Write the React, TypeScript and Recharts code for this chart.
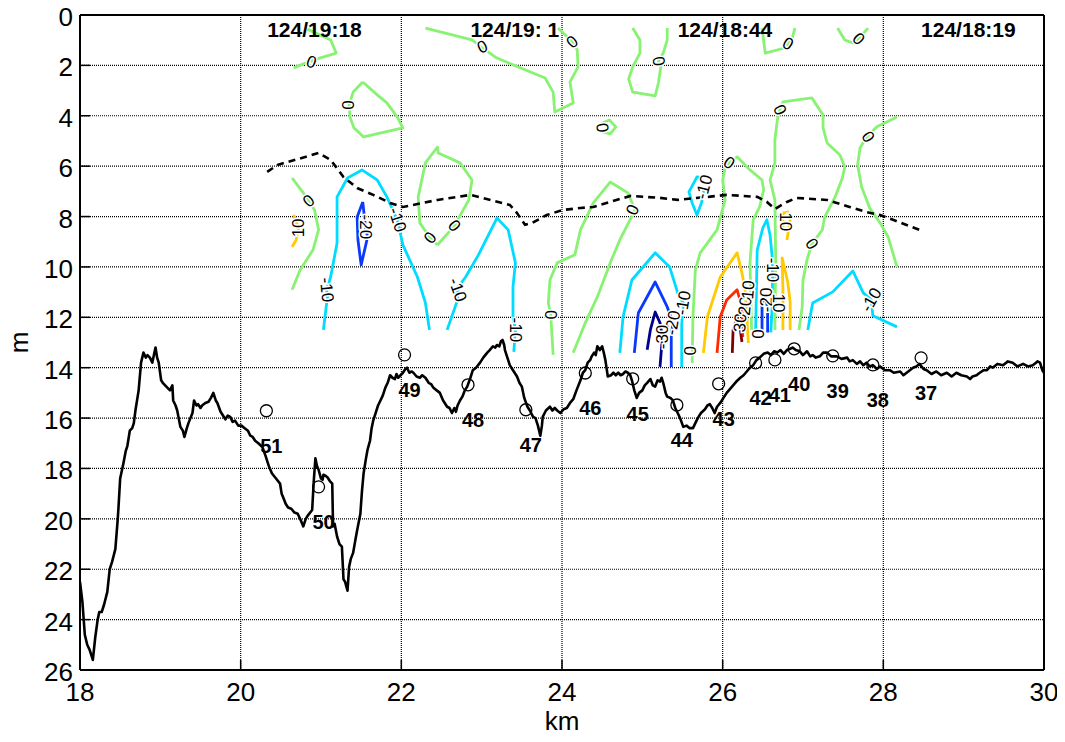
import React from 'react';
import { ComposedChart, Line, Scatter, XAxis, YAxis, CartesianGrid } from 'recharts';

type P = [number, number];
const FONT = 'Arial, "Liberation Sans", Helvetica, sans-serif';

const kmTicks = [18, 20, 22, 24, 26, 28, 30];
const depthTicks = [0, 2, 4, 6, 8, 10, 12, 14, 16, 18, 20, 22, 24, 26];

// seabed profile (km, depth m)
const seabed: P[] = [
  [18.00,22.5],[18.03,23.3],[18.06,24.6],[18.09,25.0],[18.12,25.2],[18.16,25.6],[18.19,24.7],[18.22,24.0],[18.24,23.7],[18.27,23.7],
  [18.30,23.4],[18.34,22.9],[18.37,22.0],[18.40,21.7],[18.44,21.2],[18.47,20.0],[18.48,19.5],[18.50,18.4],[18.54,17.8],[18.57,17.3],
  [18.59,17.1],[18.62,16.5],[18.65,16.4],[18.67,16.2],[18.69,15.7],[18.73,14.9],[18.76,13.8],[18.79,13.4],[18.82,13.6],[18.84,13.5],
  [18.87,13.6],[18.90,13.8],[18.92,13.5],[18.94,13.2],[18.96,13.6],[18.98,13.8],[19.01,14.5],[19.03,14.6],[19.06,14.7],[19.09,14.8],
  [19.12,14.9],[19.15,14.7],[19.16,15.3],[19.19,15.5],[19.21,15.7],[19.25,16.35],[19.28,16.5],[19.30,16.75],[19.33,16.4],[19.35,16.2],
  [19.40,15.8],[19.42,15.3],[19.45,15.5],[19.47,15.45],[19.50,15.6],[19.52,15.5],[19.56,15.4],[19.60,15.35],[19.63,15.2],[19.66,15.0],
  [19.69,15.3],[19.71,15.4],[19.75,15.75],[19.78,15.9],[19.81,16.05],[19.84,15.9],[19.87,15.95],[19.90,16.15],[19.93,16.1],[19.97,16.3],
  [20.01,16.3],[20.05,16.4],[20.09,16.5],[20.12,16.7],[20.15,16.75],[20.18,16.9],[20.22,17.0],[20.27,17.15],[20.31,17.5],[20.35,17.9],
  [20.39,18.2],[20.44,18.4],[20.49,18.6],[20.51,19.0],[20.53,19.15],[20.56,19.4],[20.59,19.55],[20.63,19.6],[20.67,19.75],[20.71,19.8],
  [20.74,20.0],[20.78,20.3],[20.81,20.0],[20.84,19.85],[20.89,19.65],[20.91,18.5],[20.93,17.6],[20.95,17.9],[20.97,18.05],[21.00,18.4],
  [21.02,18.45],[21.03,18.25],[21.06,18.3],[21.08,18.35],[21.11,18.5],[21.14,18.6],[21.15,20.3],[21.17,20.2],[21.20,20.7],[21.23,21.0],
  [21.26,21.1],[21.28,22.4],[21.30,22.5],[21.33,22.85],[21.35,21.9],[21.37,21.6],[21.40,21.35],[21.43,20.8],[21.45,20.45],[21.49,19.8],
  [21.51,18.9],[21.53,18.2],[21.56,17.6],[21.58,17.25],[21.61,16.9],[21.63,16.4],[21.65,16.1],[21.68,15.8],[21.71,15.5],[21.74,15.3],
  [21.77,15.1],[21.80,14.8],[21.83,14.6],[21.86,14.3],[21.89,14.4],[21.92,14.45],[21.94,14.25],[21.96,14.4],[21.99,14.3],[22.02,14.2],
  [22.05,14.05],[22.07,14.0],[22.10,14.2],[22.13,14.15],[22.15,14.2],[22.19,14.35],[22.23,14.4],[22.26,14.3],[22.30,14.4],[22.34,14.6],
  [22.37,14.65],[22.40,14.8],[22.44,14.9],[22.48,15.0],[22.52,15.3],[22.57,15.55],[22.60,15.6],[22.63,15.8],[22.66,15.6],[22.68,15.75],
  [22.70,15.5],[22.73,15.3],[22.76,15.15],[22.79,14.9],[22.82,14.75],[22.86,14.4],[22.89,14.1],[22.93,14.0],[22.98,13.8],[23.02,13.6],
  [23.07,13.4],[23.10,13.3],[23.14,13.15],[23.17,13.2],[23.19,13.1],[23.22,13.15],[23.24,12.95],[23.26,12.9],[23.28,13.1],[23.29,13.3],
  [23.32,13.6],[23.35,13.9],[23.39,14.1],[23.44,14.35],[23.47,14.6],[23.50,14.75],[23.53,15.2],[23.57,15.55],[23.60,15.7],[23.64,15.95],
  [23.67,16.0],[23.70,16.3],[23.73,16.7],[23.75,16.3],[23.76,15.95],[23.80,15.7],[23.85,15.55],[23.88,15.7],[23.91,15.6],[23.94,15.7],
  [23.98,15.8],[24.02,15.65],[24.06,15.6],[24.10,15.4],[24.14,15.25],[24.18,14.9],[24.23,14.5],[24.26,14.2],[24.29,14.1],[24.32,13.8],
  [24.35,13.7],[24.37,13.55],[24.40,13.4],[24.42,13.5],[24.44,13.15],[24.47,13.3],[24.50,13.15],[24.52,13.4],[24.54,13.7],[24.57,14.35],
  [24.61,14.3],[24.64,14.2],[24.67,14.3],[24.70,14.2],[24.73,14.3],[24.76,14.25],[24.79,14.15],[24.82,14.2],[24.85,14.3],[24.87,14.5],
  [24.90,14.9],[24.93,15.2],[24.96,15.0],[25.00,14.9],[25.03,14.7],[25.06,14.6],[25.10,14.45],[25.13,14.7],[25.16,14.75],[25.19,14.5],
  [25.22,14.55],[25.24,14.4],[25.26,14.6],[25.29,15.0],[25.31,15.15],[25.35,15.2],[25.38,15.3],[25.41,15.6],[25.44,15.8],[25.47,16.0],
  [25.51,16.35],[25.55,16.3],[25.59,16.4],[25.63,16.4],[25.66,16.2],[25.69,16.0],[25.73,15.8],[25.78,15.65],[25.81,15.5],[25.84,15.45],
  [25.87,15.6],[25.90,15.8],[25.93,15.55],[25.97,15.4],[26.01,15.2],[26.05,15.0],[26.09,14.85],[26.13,14.7],[26.17,14.55],[26.22,14.4],
  [26.26,14.3],[26.30,14.15],[26.34,14.0],[26.38,13.9],[26.42,13.7],[26.46,13.6],[26.51,13.45],[26.56,13.4],[26.60,13.5],[26.64,13.35],
  [26.68,13.4],[26.72,13.3],[26.76,13.45],[26.80,13.3],[26.84,13.25],[26.87,13.2],[26.91,13.3],[26.96,13.35],[27.00,13.5],[27.05,13.35],
  [27.09,13.55],[27.12,13.5],[27.16,13.6],[27.21,13.55],[27.25,13.4],[27.30,13.4],[27.35,13.55],[27.42,13.55],[27.48,13.65],[27.55,13.6],
  [27.58,13.75],[27.62,13.7],[27.67,13.85],[27.71,13.75],[27.75,13.9],[27.79,13.8],[27.83,13.95],[27.87,13.9],[27.92,14.05],[27.96,13.95],
  [28.02,14.1],[28.08,14.1],[28.13,14.2],[28.21,14.15],[28.25,14.3],[28.29,14.2],[28.33,14.1],[28.37,14.0],[28.41,13.95],[28.45,13.85],
  [28.50,14.05],[28.54,14.1],[28.60,14.25],[28.66,14.15],[28.72,14.3],[28.79,14.2],[28.85,14.35],[28.91,14.2],[28.97,14.3],[29.04,14.35],
  [29.08,14.45],[29.11,14.35],[29.16,14.3],[29.20,14.2],[29.25,14.1],[29.29,14.1],[29.33,13.95],[29.36,14.0],[29.42,13.85],[29.49,13.9],
  [29.55,13.75],[29.61,13.8],[29.67,13.95],[29.74,13.85],[29.80,13.95],[29.86,13.9],[29.90,13.8],[29.92,13.75],[29.95,13.8],[29.98,14.1],
  [30.00,14.2],
];

// dashed black line
const mixedLayer: P[] = [
  [20.33,6.23],[20.46,5.95],[20.97,5.48],[21.12,5.75],[21.28,6.43],[21.45,6.87],[21.65,7.14],[21.86,7.46],[22.02,7.62],[22.45,7.34],
  [22.86,7.14],[23.35,7.54],[23.44,7.86],[23.54,8.33],[23.63,8.25],[23.81,7.94],[24.01,7.74],[24.23,7.66],[24.39,7.62],[24.60,7.42],
  [24.85,7.18],[25.22,7.26],[25.44,7.34],[25.81,7.22],[26.05,7.14],[26.43,7.22],[26.55,7.42],[26.65,7.70],[26.80,7.42],[26.92,7.26],
  [27.30,7.34],[27.58,7.62],[27.79,7.82],[27.96,7.94],[28.12,8.13],[28.45,8.53],
];

// contour level 0
const z0a: P[] = [[20.83,0.56],[21.12,0.99],[21.19,1.51],[20.90,1.79],[20.66,2.10]];
const z0b: P[] = [[21.52,2.66],[21.40,3.06],[21.35,3.57],[21.36,4.05],[21.41,4.48],[21.53,4.84],[22.02,4.48],[21.95,4.05],[21.82,3.49],[21.70,3.17],[21.52,2.66]];
const z0c: P[] = [[22.30,0.52],[22.88,0.99],[23.01,1.31],[23.19,1.71],[23.79,2.5],[23.89,3.06],[23.91,3.85],[24.14,3.49],[24.10,2.66],[24.20,2.06],[24.19,1.39],[24.13,1.07],[23.95,0.52]];
const z0d: P[] = [[24.88,0.52],[24.97,0.99],[24.97,1.51],[24.88,2.06],[24.83,2.54],[24.88,3.06],[25.16,3.21],[25.20,2.70],[25.23,2.06],[25.20,1.83],[25.26,1.51],[25.31,0.99],[25.31,0.52]];
const z0e: P[] = [[26.49,0.52],[26.53,1.51],[26.77,1.31],[26.81,1.15],[26.87,0.87],[26.90,0.52]];
const z0f: P[] = [[27.43,0.52],[27.52,0.99],[27.62,1.11],[27.69,0.95],[27.81,0.52]];
const z0g: P[] = [[24.48,4.33],[24.59,4.17],[24.67,4.44],[24.60,4.72],[24.51,4.64]];
const z0h: P[] = [[26.65,12.5],[26.66,9.72],[26.65,7.34],[26.59,6.55],[26.65,5.87],[26.65,4.96],[26.68,4.17],[26.71,3.77],[26.75,3.45],[27.11,3.29],[27.25,3.97],[27.25,4.48],[27.30,5.08],[27.46,5.56],[27.52,6.03],[27.49,6.47],[27.40,7.22],[27.27,8.02],[27.24,8.53],[27.11,9.09],[27.05,9.72],[27.00,10.52],[26.99,11.59],[26.95,12.5]];
const z0i: P[] = [[25.62,13.81],[25.63,11.98],[25.66,10.12],[25.72,9.44],[25.93,8.53],[26.03,7.34],[26.00,6.55],[26.03,6.07],[26.08,5.87],[26.18,5.63],[26.34,6.15],[26.49,6.55],[26.51,6.94],[26.46,7.62],[26.38,8.13],[26.34,9.84],[26.36,12.5]];
const z0j: P[] = [[28.17,4.05],[27.92,4.44],[27.79,4.84],[27.71,5.28],[27.68,5.95],[27.73,6.83],[27.83,7.66],[27.96,8.25],[28.06,8.81],[28.17,10.0]];
const z0k: P[] = [[20.64,6.47],[20.77,7.02],[20.92,7.74],[20.97,8.53],[20.90,9.33],[20.74,10.12],[20.64,10.91]];
const z0n: P[] = [[22.45,9.13],[22.36,8.85],[22.23,8.25],[22.21,7.22],[22.30,5.87],[22.45,5.24],[22.46,5.48],[22.73,5.87],[22.88,6.55],[22.84,7.34],[22.66,8.37],[22.45,9.13]];
const z0u: P[] = [[23.89,13.49],[23.86,11.90],[23.83,11.43],[23.85,10.52],[23.94,9.84],[24.16,9.52],[24.23,8.53],[24.39,7.46],[24.60,6.63],[24.82,7.06],[24.91,7.74],[24.72,8.93],[24.60,9.84],[24.44,11.19],[24.29,12.22],[24.14,13.41]];

// contour level -10
const m10a: P[] = [[21.03,12.5],[21.08,11.19],[21.07,10.91],[21.12,10.40],[21.20,9.05],[21.20,7.22],[21.33,6.47],[21.51,6.15],[21.70,6.55],[21.82,7.22],[21.95,8.13],[22.02,9.13],[22.20,10.40],[22.30,11.43],[22.35,12.5]];
const m10b: P[] = [[22.57,12.5],[22.70,11.31],[22.70,10.83],[22.80,10.40],[22.96,9.52],[23.19,8.06],[23.33,8.53],[23.42,9.84],[23.39,10.79],[23.39,11.98],[23.42,12.5],[23.40,13.37]];
const m10c: P[] = [[24.72,13.41],[24.76,11.98],[24.87,10.52],[25.16,9.44],[25.34,10.0],[25.44,11.03],[25.51,11.43],[25.49,12.22],[25.49,13.97]];
const m10d: P[] = [[25.76,6.47],[25.68,6.43],[25.58,7.02],[25.62,7.46],[25.68,7.94],[25.74,7.42],[25.77,6.83]];
const m10e: P[] = [[26.41,12.6],[26.43,9.33],[26.50,8.45],[26.55,8.13],[26.59,8.73],[26.62,9.72],[26.62,11.31],[26.60,12.6]];
const m10f: P[] = [[27.06,12.5],[27.12,11.43],[27.37,10.99],[27.62,10.16],[27.75,11.03],[27.85,11.31],[27.87,11.94],[28.17,12.38]];

// contour level -20
const m20a: P[] = [[21.52,7.42],[21.45,8.02],[21.46,8.93],[21.50,9.92],[21.58,8.81],[21.55,8.33],[21.52,7.42]];
const m20b: P[] = [[24.90,13.41],[24.95,11.83],[25.16,10.60],[25.31,11.59],[25.38,12.22],[25.36,12.78],[25.36,13.97]];
const m20c: P[] = [[26.49,12.6],[26.49,11.43],[26.53,11.23],[26.56,11.6],[26.56,12.6]];

// contour level -30
const m30a: P[] = [[25.06,13.29],[25.10,12.5],[25.16,11.79],[25.22,12.22],[25.25,12.78],[25.22,13.97]];

// contour level 10
const p10a: P[] = [[20.66,7.94],[20.69,8.21],[20.72,8.45],[20.69,8.93],[20.64,9.21]];
const p10b: P[] = [[25.76,13.41],[25.81,11.98],[25.97,10.40],[26.18,9.44],[26.24,10.24],[26.28,10.91],[26.30,11.98],[26.32,13.02]];
const p10c: P[] = [[26.75,8.41],[26.75,7.86],[26.81,7.82],[26.84,8.13],[26.80,8.93]];
const p10d: P[] = [[26.75,12.5],[26.75,10.9],[26.74,9.64],[26.81,10.6],[26.84,11.4],[26.84,12.5]];

// contour level 20
const p20a: P[] = [[25.93,13.41],[25.97,11.98],[26.05,11.31],[26.18,10.91],[26.24,11.59],[26.25,12.78]];

// contour level 30
const p30a: P[] = [[26.12,13.41],[26.13,12.5],[26.18,12.02],[26.22,12.5],[26.24,12.98]];

const contours: { level: number; pts: P[] }[] = [
  { level: 0, pts: z0a }, { level: 0, pts: z0b }, { level: 0, pts: z0c }, { level: 0, pts: z0d },
  { level: 0, pts: z0e }, { level: 0, pts: z0f }, { level: 0, pts: z0g }, { level: 0, pts: z0h },
  { level: 0, pts: z0i }, { level: 0, pts: z0j }, { level: 0, pts: z0k }, { level: 0, pts: z0n },
  { level: 0, pts: z0u },
  { level: -10, pts: m10a }, { level: -10, pts: m10b }, { level: -10, pts: m10c },
  { level: -10, pts: m10d }, { level: -10, pts: m10e }, { level: -10, pts: m10f },
  { level: -20, pts: m20a }, { level: -20, pts: m20b }, { level: -20, pts: m20c },
  { level: -30, pts: m30a },
  { level: 10, pts: p10a }, { level: 10, pts: p10b }, { level: 10, pts: p10c }, { level: 10, pts: p10d },
  { level: 20, pts: p20a },
  { level: 30, pts: p30a },
];

const levelColor: Record<string, string> = {
  '-30': '#00008F', '-20': '#0A38FF', '-10': '#00DCFF', '0': '#88F272',
  '10': '#FFCA00', '20': '#FF2A00', '30': '#800000',
};

// contour labels: km, depth, text, rotation
const contourLabels = [
  { x: 20.88, y: 1.87, text: '0', angle: 20 },
  { x: 21.33, y: 3.57, text: '0', angle: 90 },
  { x: 23.01, y: 1.27, text: '0', angle: -25 },
  { x: 24.13, y: 1.07, text: '0', angle: -40 },
  { x: 25.20, y: 1.83, text: '0', angle: 80 },
  { x: 26.81, y: 1.15, text: '0', angle: 30 },
  { x: 27.69, y: 0.95, text: '0', angle: 45 },
  { x: 24.50, y: 4.48, text: '0', angle: 85 },
  { x: 26.71, y: 3.77, text: '0', angle: 65 },
  { x: 27.81, y: 4.84, text: '0', angle: 55 },
  { x: 26.08, y: 5.87, text: '0', angle: 35 },
  { x: 24.88, y: 7.74, text: '0', angle: -65 },
  { x: 23.86, y: 11.90, text: '0', angle: 90 },
  { x: 22.36, y: 8.85, text: '0', angle: -50 },
  { x: 22.66, y: 8.37, text: '0', angle: 50 },
  { x: 20.85, y: 7.38, text: '0', angle: -40 },
  { x: 27.11, y: 9.09, text: '0', angle: 55 },
  { x: 25.59, y: 13.33, text: '0', angle: 90 },
  { x: 26.43, y: 12.66, text: '0', angle: 90 },
  { x: 20.72, y: 8.45, text: '10', angle: -90 },
  { x: 21.07, y: 10.91, text: '-10', angle: 85 },
  { x: 21.95, y: 8.13, text: '-10', angle: 72 },
  { x: 21.55, y: 8.41, text: '-20', angle: 90 },
  { x: 22.70, y: 10.91, text: '-10', angle: 70 },
  { x: 23.42, y: 12.5, text: '-10', angle: 90 },
  { x: 25.51, y: 11.43, text: '-10', angle: -80 },
  { x: 25.38, y: 12.22, text: '-20', angle: -80 },
  { x: 25.25, y: 12.78, text: '-30', angle: -90 },
  { x: 26.22, y: 12.22, text: '30', angle: -85 },
  { x: 26.28, y: 11.55, text: '20', angle: -85 },
  { x: 26.32, y: 10.91, text: '10', angle: -85 },
  { x: 25.77, y: 6.83, text: '-10', angle: -75 },
  { x: 26.62, y: 10.12, text: '-10', angle: 90 },
  { x: 26.54, y: 11.31, text: '-20', angle: -90 },
  { x: 26.70, y: 11.43, text: '10', angle: 90 },
  { x: 26.78, y: 8.21, text: '10', angle: 90 },
  { x: 27.85, y: 11.31, text: '-10', angle: -60 },
];

// CTD stations
const stationKm = [20.32, 20.97, 22.04, 22.83, 23.55, 24.29, 24.88, 25.43, 25.95, 26.41, 26.65, 26.89, 27.37, 27.87, 28.47];
const stationDepth = [15.71, 18.73, 13.49, 14.68, 15.67, 14.21, 14.44, 15.48, 14.64, 13.81, 13.69, 13.25, 13.53, 13.89, 13.61];
const stationNo = ['51', '50', '49', '48', '47', '46', '45', '44', '43', '42', '41', '40', '39', '38', '37'];

// time stamps
const timeKm = [20.33, 22.86, 25.44, 28.47];
const timeText = ['124/19:18', '124/19: 1', '124/18:44', '124/18:19'];
const timeDepth = 0.56;

const toXY = (pts: P[]) => pts.map(([x, y]) => ({ x, y }));
const stations = stationKm.map((x, i) => ({ x, y: stationDepth[i], text: stationNo[i] }));
const times = timeKm.map((x, i) => ({ x, y: timeDepth, text: timeText[i] }));

const XTick = (p: any) => (
  <text x={p.x} y={p.y + 31} textAnchor="middle" fontSize={26} fontFamily={FONT} fill="#000">
    {p.payload.value}
  </text>
);
const YTick = (p: any) => (
  <text x={p.x} y={p.y + 11} textAnchor="end" fontSize={26} fontFamily={FONT} fill="#000">
    {p.payload.value}
  </text>
);

const ContourLabel = (p: any) => {
  const { cx, cy, payload } = p;
  if (cx == null || cy == null) return null;
  return (
    <text
      x={cx}
      y={cy}
      textAnchor="middle"
      dominantBaseline="central"
      fontSize={17}
      fontFamily={FONT}
      fill="#000"
      stroke="#fff"
      strokeWidth={3}
      paintOrder="stroke"
      transform={`rotate(${payload.angle} ${cx} ${cy})`}
    >
      {payload.text}
    </text>
  );
};

const StationMark = (p: any) => {
  const { cx, cy, payload } = p;
  if (cx == null || cy == null) return null;
  return (
    <g>
      <circle cx={cx} cy={cy} r={6} fill="none" stroke="#000" strokeWidth={1.3} />
      <text x={cx + 5} y={cy + 35} textAnchor="middle" dominantBaseline="central" fontSize={20} fontWeight="bold" fontFamily={FONT} fill="#000">
        {payload.text}
      </text>
    </g>
  );
};

const TimeMark = (p: any) => {
  const { cx, cy, payload } = p;
  if (cx == null || cy == null) return null;
  return (
    <text x={cx} y={cy} textAnchor="start" dominantBaseline="central" fontSize={21} fontWeight="bold" fontFamily={FONT} fill="#000">
      {payload.text}
    </text>
  );
};

const YLabel = (p: any) => {
  const vb = p.viewBox || { x: 0, y: 7, width: 72, height: 655 };
  const cx = vb.x + 20;
  const cy = vb.y + vb.height / 2;
  return (
    <text x={cx} y={cy} textAnchor="middle" fontSize={26} fontFamily={FONT} fill="#000" transform={`rotate(-90 ${cx} ${cy})`}>
      m
    </text>
  );
};

const axisLine = { stroke: '#000', strokeWidth: 2 };
const tickLine = { stroke: '#000', strokeWidth: 1.5 };

export default function App() {
  return (
    <div style={{ width: 1057, height: 734, background: '#fff' }}>
      <ComposedChart width={1057} height={734} margin={{ top: 6, right: 20, bottom: 0, left: 0 }}>
        <CartesianGrid stroke="#000" strokeDasharray="1 1" strokeWidth={1.2} />
        <XAxis
          xAxisId={0}
          dataKey="x"
          type="number"
          domain={[18, 30]}
          ticks={kmTicks}
          interval={0}
          allowDataOverflow
          height={72}
          tickSize={-10}
          tickMargin={10}
          tickLine={tickLine}
          axisLine={axisLine}
          tick={XTick}
          label={{ value: 'km', position: 'insideBottom', offset: 12, fontSize: 26, fill: '#000', fontFamily: FONT }}
        />
        <XAxis
          xAxisId="top"
          orientation="top"
          dataKey="x"
          type="number"
          domain={[18, 30]}
          ticks={kmTicks}
          interval={0}
          allowDataOverflow
          height={1}
          tickSize={-10}
          tickLine={tickLine}
          axisLine={axisLine}
          tick={false}
        />
        <YAxis
          yAxisId={0}
          dataKey="y"
          type="number"
          domain={[0, 26]}
          reversed
          ticks={depthTicks}
          interval={0}
          allowDataOverflow
          width={72}
          tickSize={-10}
          tickMargin={17}
          tickLine={tickLine}
          axisLine={axisLine}
          tick={YTick}
          label={{ content: YLabel }}
        />
        <YAxis
          yAxisId="r"
          orientation="right"
          type="number"
          domain={[0, 26]}
          reversed
          ticks={depthTicks}
          interval={0}
          allowDataOverflow
          width={1}
          tickSize={-10}
          tickLine={tickLine}
          axisLine={axisLine}
          tick={false}
        />

        {contours.map((c, i) => (
          <Line
            key={`c${i}`}
            data={toXY(c.pts)}
            dataKey="y"
            type="linear"
            stroke={levelColor[String(c.level)]}
            strokeWidth={2.8}
            dot={false}
            activeDot={false}
            isAnimationActive={false}
            strokeLinejoin="round"
          />
        ))}
        <Line
          data={toXY(mixedLayer)}
          dataKey="y"
          type="linear"
          stroke="#000"
          strokeWidth={2.6}
          strokeDasharray="7 5"
          dot={false}
          activeDot={false}
          isAnimationActive={false}
        />
        <Line
          data={toXY(seabed)}
          dataKey="y"
          type="linear"
          stroke="#000"
          strokeWidth={2.6}
          dot={false}
          activeDot={false}
          isAnimationActive={false}
          strokeLinejoin="round"
        />
        <Scatter data={contourLabels} dataKey="y" shape={ContourLabel} isAnimationActive={false} />
        <Scatter data={stations} dataKey="y" shape={StationMark} isAnimationActive={false} />
        <Scatter data={times} dataKey="y" shape={TimeMark} isAnimationActive={false} />
      </ComposedChart>
    </div>
  );
}
